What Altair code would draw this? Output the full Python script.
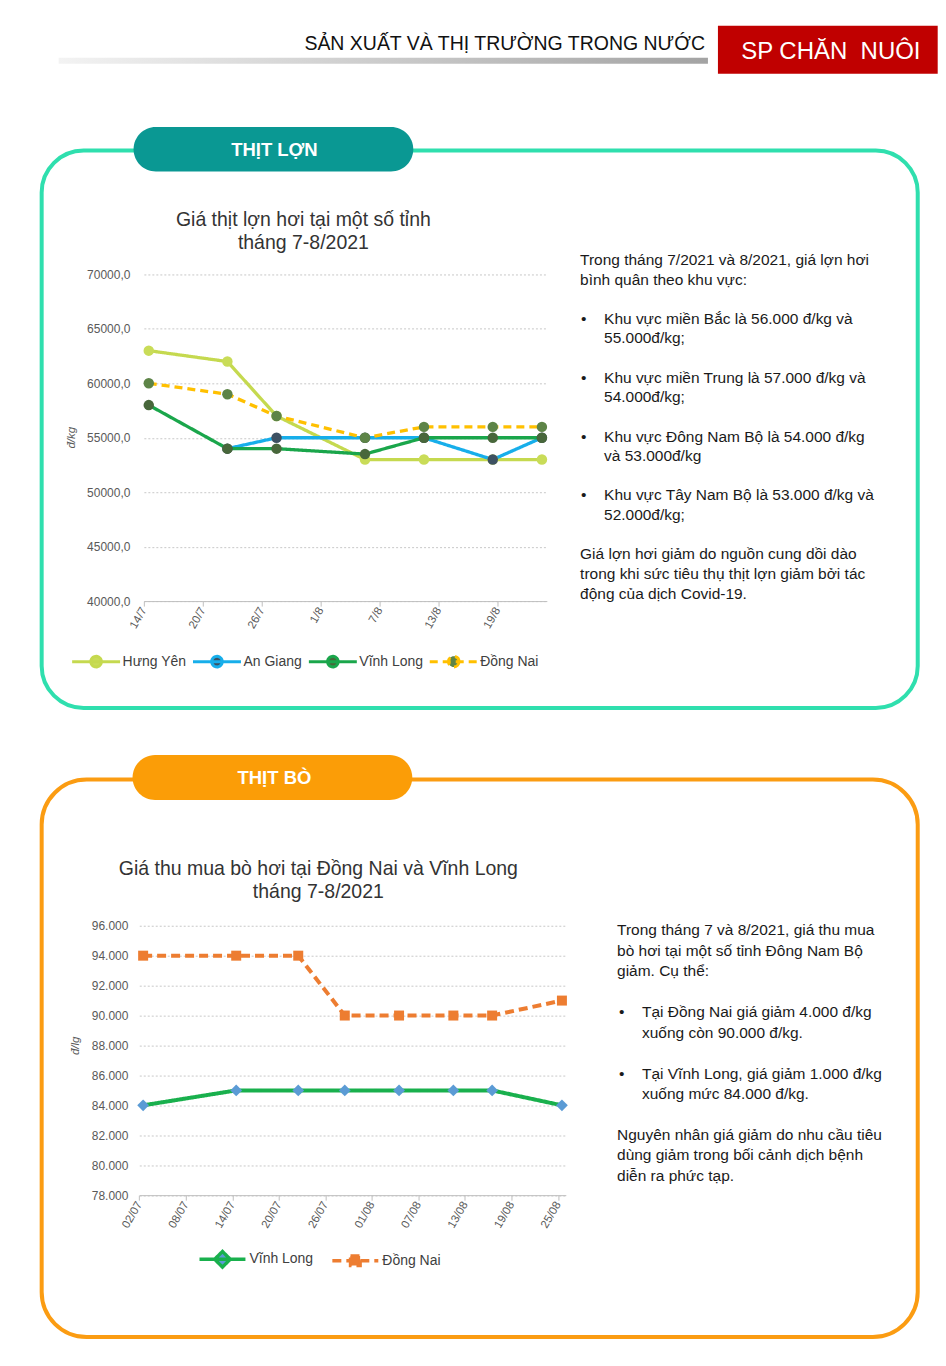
import altair as alt
import pandas as pd

FONT = "Liberation Sans"
INK = "#1a1a1a"
AXIS_INK = "#595959"
GRID_COLOR = "#c8c8c8"
AXIS_LINE = "#bfbfbf"

PAGE_LEFT, PAGE_RIGHT = 8, 938
OX = 143.3  # page x of the plot origins

# ---------------- header ----------------
HEADER_TITLE = "SẢN XUẤT VÀ THỊ TRƯỜNG TRONG NƯỚC"
HEADER_BADGE = "SP CHĂN\u00a0 NUÔI"

# ---------------- pork ----------------
PIG_TAB = "THỊT LỢN"
PIG_TITLE = ["Giá thịt lợn hơi tại một số tỉnh", "tháng 7-8/2021"]
PIG_Y_TITLE = "đ/kg"
PIG_SERIES = ["Hưng Yên", "An Giang", "Vĩnh Long", "Đồng Nai"]
PIG_DATES = ["2021-07-14", "2021-07-22", "2021-07-27", "2021-08-05",
             "2021-08-11", "2021-08-18", "2021-08-23"]
PIG_HUNG_YEN = [63000, 62000, 57000, 53000, 53000, 53000, 53000]
PIG_AN_GIANG = [None, 54000, 55000, 55000, 55000, 53000, 55000]
PIG_VINH_LONG = [58000, 54000, 54000, 53500, 55000, 55000, 55000]
PIG_DONG_NAI = [60000, 59000, 57000, 55000, 56000, 56000, 56000]
PIG_X_DOMAIN = ["2021-07-14", "2021-08-24"]
PIG_X_TICKS = ["2021-07-14", "2021-07-20", "2021-07-26", "2021-08-01",
               "2021-08-07", "2021-08-13", "2021-08-19"]
PIG_Y_DOMAIN = [40000, 70000]
PIG_Y_TICKS = [40000, 45000, 50000, 55000, 60000, 65000, 70000]
PIG_LINE_COLORS = ["#c5d94f", "#17aeea", "#1aa64b", "#ffc000"]
PIG_MARKER_COLORS = ["#c9dc58", "#3d5162", "#48673b", "#5d8447"]
PIG_DASHES = [[1, 0], [1, 0], [1, 0], [8, 5]]
PIG_TEXT = [
    ("p", ["Trong tháng 7/2021 và 8/2021, giá lợn hơi", "bình quân theo khu vực:"]),
    ("b", ["Khu vực miền Bắc là 56.000 đ/kg và", "55.000đ/kg;"]),
    ("b", ["Khu vực miền Trung là 57.000 đ/kg và", "54.000đ/kg;"]),
    ("b", ["Khu vực  Đông Nam Bộ là 54.000 đ/kg", "và 53.000đ/kg"]),
    ("b", ["Khu vực Tây Nam Bộ là 53.000 đ/kg và", "52.000đ/kg;"]),
    ("p", ["Giá lợn hơi giảm do nguồn cung dồi dào",
           "trong khi sức tiêu thụ thịt lợn giảm bởi tác",
           "động của dịch Covid-19."]),
]

# ---------------- beef ----------------
COW_TAB = "THỊT BÒ"
COW_TITLE = ["Giá thu mua bò hơi tại Đồng Nai và Vĩnh Long", "tháng 7-8/2021"]
COW_Y_TITLE = "đ/lg"
COW_SERIES = ["Vĩnh Long", "Đồng Nai"]
COW_DATES = ["2021-07-02", "2021-07-14", "2021-07-22", "2021-07-28",
             "2021-08-04", "2021-08-11", "2021-08-16", "2021-08-25"]
COW_VINH_LONG = [84000, 85000, 85000, 85000, 85000, 85000, 85000, 84000]
COW_DONG_NAI = [94000, 94000, 94000, 90000, 90000, 90000, 90000, 91000]
COW_X_DOMAIN = ["2021-07-02", "2021-08-26"]
COW_X_TICKS = ["2021-07-02", "2021-07-08", "2021-07-14", "2021-07-20", "2021-07-26",
               "2021-08-01", "2021-08-07", "2021-08-13", "2021-08-19", "2021-08-25"]
COW_Y_DOMAIN = [78000, 96000]
COW_Y_TICKS = [78000, 80000, 82000, 84000, 86000, 88000, 90000, 92000, 94000, 96000]
COW_LINE_COLORS = ["#19b04d", "#ed7d31"]
COW_MARKER_COLORS = ["#5b9bd5", "#ed7d31"]
COW_SHAPES = ["diamond", "square"]
COW_SIZES = [140, 100]
COW_DASHES = [[1, 0], [9, 5]]
COW_TEXT = [
    ("p", ["Trong tháng 7 và 8/2021, giá thu mua",
           "bò hơi tại một số tỉnh Đông Nam Bộ", "giảm. Cụ thể:"]),
    ("b", ["Tại Đồng Nai giá giảm 4.000 đ/kg", "xuống còn 90.000 đ/kg."]),
    ("b", ["Tại Vĩnh Long, giá giảm 1.000 đ/kg", "xuống mức 84.000 đ/kg."]),
    ("p", ["Nguyên nhân giá giảm do nhu cầu tiêu",
           "dùng giảm trong bối cảnh dịch bệnh", "diễn ra phức tạp."]),
]

# legend glyphs: a line with the series marker on it (unit square -1..1)
PIG_LEGEND_PATH = "M-1,0L1,0M0.22,0A0.22,0.22,0,1,1,-0.22,0A0.22,0.22,0,1,1,0.22,0Z"
COW_LEGEND_PATHS = ["M-1,0L1,0M0,-0.34L0.34,0L0,0.34L-0.34,0Z",
                    "M-1,0L1,0M-0.21,-0.21L0.21,-0.21L0.21,0.21L-0.21,0.21Z"]

ONE = pd.DataFrame({"k": [0]})


def rx(page_x):
    return round(page_x - OX, 2)


def dt(s):
    y, m, d = (int(t) for t in s.split("-"))
    return alt.DateTime(year=y, month=m, date=d)


def rect(x1, x2, y1, y2, **mark):
    return alt.Chart(ONE).mark_rect(**mark).encode(
        x=alt.value(x1), x2=alt.value(x2), y=alt.value(y1), y2=alt.value(y2))


def text(lines, x, y, **mark):
    if isinstance(lines, str):
        lines = [lines]
    mark.setdefault("font", FONT)
    mark.setdefault("baseline", "alphabetic")
    mark.setdefault("align", "left")
    return alt.Chart(ONE).mark_text(lineBreak="\n", **mark).encode(
        x=alt.value(x), y=alt.value(y), text=alt.value("\n".join(lines)))


def frame(oy, band, box, box_color, radius, tab, tab_color, tab_label, tab_base):
    ry = lambda p: round(p - oy, 2)
    return [
        rect(rx(PAGE_LEFT), rx(PAGE_RIGHT), ry(band[0]), ry(band[1]), opacity=0),
        rect(rx(box[0]), rx(box[1]), ry(box[2]), ry(box[3]), fill="transparent",
             stroke=box_color, strokeWidth=4, cornerRadius=radius),
        rect(rx(tab[0]), rx(tab[1]), ry(tab[2]), ry(tab[3]), fill=tab_color,
             cornerRadius=22.5),
        text(tab_label, rx(274), ry(tab_base), align="center", fontSize=18.5,
             fontWeight="bold", fill="white"),
    ]


def body(paragraphs, oy, x_text, x_bullet, x_indent, y0, lh, size):
    out = []
    n = 0
    for kind, lines in paragraphs:
        y = round(y0 + n * lh - oy, 2)
        if kind == "b":
            out.append(text("•", rx(x_bullet), y, fontSize=size, fill=INK))
            out.append(text(lines, rx(x_indent), y, fontSize=size, lineHeight=lh, fill=INK))
        else:
            out.append(text(lines, rx(x_text), y, fontSize=size, lineHeight=lh, fill=INK))
        n += len(lines) + 1
    return out


def long_df(series, dates, columns):
    rows = []
    for s, vals in zip(series, columns):
        for d, v in zip(dates, vals):
            if v is not None:
                rows.append({"date": d + "T12:00:00", "series": s, "value": v})
    return pd.DataFrame(rows)


def time_axis(ticks, fmt):
    return alt.Axis(values=[dt(d) for d in ticks], format=fmt, title=None,
                    labelAngle=-60, labelAlign="right", labelBaseline="middle",
                    labelFlush=False, labelOverlap=False, labelPadding=2,
                    labelFont=FONT, labelFontSize=11.5, labelColor=AXIS_INK,
                    tickSize=5, tickColor=AXIS_LINE, domainColor=AXIS_LINE, grid=False)


def value_axis(ticks, expr, title, tx, ty, pad):
    return alt.Axis(values=ticks, labelExpr=expr, domain=False, ticks=False, grid=True,
                    gridDash=[2, 2], gridColor=GRID_COLOR, labelPadding=pad, labelFont=FONT,
                    labelFontSize=12, labelColor=AXIS_INK,
                    title=title, titleX=tx, titleY=ty, titleAngle=270, titleAlign="center",
                    titleBaseline="middle", titleFont=FONT, titleFontSize=11.5,
                    titleFontStyle="italic", titleFontWeight="normal", titleColor=AXIS_INK)


def legend(x, y, cols, size, sw, col_pad, label_off, symbol):
    return alt.Legend(
        title=None, orient="none", legendX=x, legendY=y, direction="horizontal",
        columns=cols, padding=0, symbolType=symbol, symbolSize=size * size,
        symbolStrokeWidth=sw, symbolOpacity=1, symbolFillColor="#888888",
        symbolStrokeColor="#888888", labelFont=FONT, labelFontSize=14,
        labelColor="#404040", labelOffset=label_off, columnPadding=col_pad)


# ================= header =================
OY_H = 8
ryh = lambda p: round(p - OY_H, 2)
GRADIENT = {"gradient": "linear", "x1": 0, "x2": 1, "y1": 0, "y2": 0,
            "stops": [{"offset": 0, "color": "#f3f3f3"}, {"offset": 1, "color": "#a3a3a3"}]}
header = alt.layer(
    rect(rx(PAGE_LEFT), rx(PAGE_RIGHT), 0, 92, opacity=0),
    rect(rx(58), rx(708), ryh(57), ryh(63), fill=GRADIENT),
    text(HEADER_TITLE, rx(705), ryh(49), align="right", fontSize=19.5, fill="#111111"),
    rect(rx(718), rx(PAGE_RIGHT), ryh(25), ryh(73), fill="#c00000"),
    text(HEADER_BADGE, rx(831), ryh(58.5), align="center", fontSize=24, fill="white"),
).properties(width=round(PAGE_RIGHT - OX, 2), height=92)

# ================= pork =================
OY_P = 274.0
pig_df = long_df(PIG_SERIES, PIG_DATES, [PIG_HUNG_YEN, PIG_AN_GIANG, PIG_VINH_LONG, PIG_DONG_NAI])

pig_x = alt.X("date:T", scale=alt.Scale(domain=[dt(d) for d in PIG_X_DOMAIN], nice=False),
              axis=time_axis(PIG_X_TICKS, "%-d/%-m"))
pig_y = alt.Y("value:Q", scale=alt.Scale(domain=PIG_Y_DOMAIN, nice=False, zero=False),
              axis=value_axis(PIG_Y_TICKS, "replace(format(datum.value, '.1f'), '.', ',')",
                              PIG_Y_TITLE, rx(71), round(437 - OY_P, 2), 14))
pig_legend = legend(rx(70), round(660 - 24 - OY_P, 2), 4, 48, 3.0, 0, 1, PIG_LEGEND_PATH)
pig_stroke = alt.Stroke("series:N", scale=alt.Scale(domain=PIG_SERIES, range=PIG_LINE_COLORS),
                        legend=pig_legend)
pig_dash = alt.StrokeDash("series:N", scale=alt.Scale(domain=PIG_SERIES, range=PIG_DASHES),
                          legend=pig_legend)
pig_fill = alt.Fill("series:N", scale=alt.Scale(domain=PIG_SERIES, range=PIG_MARKER_COLORS),
                    legend=pig_legend)

pig_lines = [alt.Chart(pig_df).transform_filter(alt.datum.series == s)
             .mark_line(strokeWidth=3.3).encode(x=pig_x, y=pig_y, stroke=pig_stroke,
                                                strokeDash=pig_dash)
             for s in PIG_SERIES]
pig_points = alt.Chart(pig_df).mark_point(filled=True, shape="circle", size=110,
                                          opacity=1).encode(x=pig_x, y=pig_y, fill=pig_fill)

pig = alt.layer(
    *frame(OY_P, (100, 740), (41, 918, 150, 708), "#2fdfae", 42,
           (133, 413, 126.5, 171), "#0a9893", PIG_TAB, 155),
    text(PIG_TITLE, rx(303), round(226 - OY_P, 2), align="center", fontSize=19.5,
         lineHeight=22.5, fill="#333333"),
    *body(PIG_TEXT, OY_P, 580, 581, 604, 264.5, 19.65, 15.5),
    *pig_lines,
    pig_points,
).properties(width=403.4, height=327)

# ================= beef =================
OY_C = 925.3
cow_df = long_df(COW_SERIES, COW_DATES, [COW_VINH_LONG, COW_DONG_NAI])

cow_x = alt.X("date:T",
              scale=alt.Scale(domain=[dt(d) for d in COW_X_DOMAIN], nice=False,
                              range=[rx(138.7), rx(565.7)]),
              axis=time_axis(COW_X_TICKS, "%d/%m"))
cow_y = alt.Y("value:Q", scale=alt.Scale(domain=COW_Y_DOMAIN, nice=False, zero=False),
              axis=value_axis(COW_Y_TICKS, "replace(format(datum.value, ',.0f'), ',', '.')",
                              COW_Y_TITLE, rx(75), round(1045 - OY_C, 2), 16))
cow_legend = legend(rx(197), round(1257 - 23 - OY_C, 2), 2, 46, 3.4, 12, 2,
                    COW_LEGEND_PATHS[0])
cow_stroke = alt.Stroke("series:N", scale=alt.Scale(domain=COW_SERIES, range=COW_LINE_COLORS),
                        legend=cow_legend)
cow_dash = alt.StrokeDash("series:N", scale=alt.Scale(domain=COW_SERIES, range=COW_DASHES),
                          legend=cow_legend)
cow_fill = alt.Fill("series:N", scale=alt.Scale(domain=COW_SERIES, range=COW_MARKER_COLORS),
                    legend=cow_legend)
cow_shape = alt.Shape("series:N", scale=alt.Scale(domain=COW_SERIES, range=COW_LEGEND_PATHS),
                      legend=cow_legend)

cow_lines = [alt.Chart(cow_df).transform_filter(alt.datum.series == s)
             .mark_line(strokeWidth=4).encode(x=cow_x, y=cow_y, stroke=cow_stroke,
                                              strokeDash=cow_dash)
             for s in COW_SERIES]
cow_points = [alt.Chart(cow_df).transform_filter(alt.datum.series == s)
              .mark_point(filled=True, shape=shp, size=sz, opacity=1)
              .encode(x=cow_x, y=cow_y, fill=cow_fill)
              for s, shp, sz in zip(COW_SERIES, COW_SHAPES, COW_SIZES)]
# invisible layer that only carries the legend glyph shapes
cow_legend_shapes = alt.Chart(cow_df).mark_point(filled=True, opacity=0).encode(
    x=cow_x, y=cow_y, fill=cow_fill, shape=cow_shape)

cow = alt.layer(
    *frame(OY_C, (740, 1358), (41, 918, 779, 1337), "#fb9c12", 45,
           (132, 412, 754.5, 799.5), "#fb9d07", COW_TAB, 783),
    text(COW_TITLE, rx(318), round(875 - OY_C, 2), align="center", fontSize=19.5,
         lineHeight=22.5, fill="#333333"),
    *body(COW_TEXT, OY_C, 617, 619, 642, 934.8, 20.5, 15.5),
    *cow_lines,
    *cow_points,
    cow_legend_shapes,
).properties(width=round(565.7 - OX, 2), height=round(1195 - OY_C, 2))

chart = (alt.vconcat(header, pig, cow, spacing=0)
         .resolve_scale(stroke="independent", strokeDash="independent",
                        fill="independent", shape="independent")
         .resolve_legend(stroke="independent", strokeDash="independent",
                         fill="independent", shape="independent")
         .properties(padding=0)
         .configure(font=FONT)
         .configure_view(strokeWidth=0))

chart.save("out.html", embed_options={"renderer": "svg", "actions": False})
